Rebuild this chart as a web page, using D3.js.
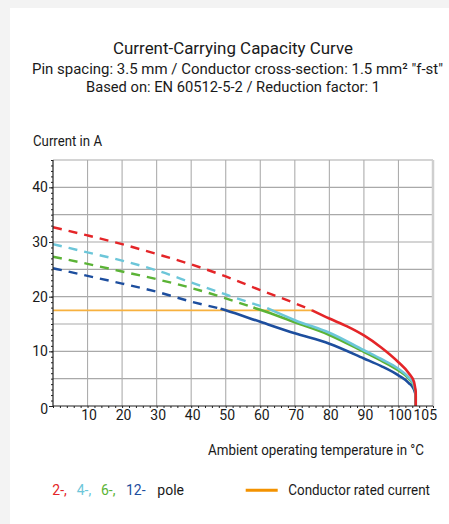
<!DOCTYPE html>
<html><head><meta charset="utf-8">
<script src="https://cdn.jsdelivr.net/npm/d3@7"></script>
<style>
html,body{margin:0;padding:0;background:#f3f3f3;}
svg{display:block;}
text{font-family:Roboto,"Noto Sans",sans-serif;fill:#1a1a1a;}
</style></head>
<body>
<svg id="chart" width="449" height="524"></svg>
<script>
// ---- data ----
const titleLines = ["Current-Carrying Capacity Curve",
  "Pin spacing: 3.5 mm / Conductor cross-section: 1.5 mm\u00b2 \"f-st\"",
  "Based on: EN 60512-5-2 / Reduction factor: 1"];
const yTicks = [0, 10, 20, 30, 40];
const xTicks = [10, 20, 30, 40, 50, 60, 70, 80, 90, 100, 105];
const poleLabels = ["2-,", "4-,", "6-,", "12-"];
const poleColors = ["#e42528", "#6cc6d9", "#5bb336", "#1d4e9e"];

const redT   = [0,10,20,30,40,50,60,70,75,80,85,90,95,100,103,104.5,105,105];
const redI   = [32.7,31.2,29.6,27.8,25.9,23.7,21.2,18.8,17.5,16.0,14.6,12.9,10.7,8.0,6.0,4.4,2.6,0];
const cyanT  = [0,10,20,30,40,50,60,62,70,80,90,95,100,103,104.5,105,105];
const cyanI  = [29.6,28.1,26.6,24.8,22.6,20.4,18.3,17.9,15.7,13.4,10.2,8.6,6.8,5.2,3.8,2.5,0];
const greenT = [0,10,20,30,40,50,58,60,70,80,90,95,100,103,104.5,105,105];
const greenI = [27.3,26.0,24.6,23.2,21.6,19.7,18.0,17.6,15.3,13.0,9.9,8.3,6.5,5.0,3.6,2.4,0];
const blueT  = [0,10,20,30,40,48.5,50,60,70,80,90,95,100,103,104.5,105,105];
const blueI  = [25.2,23.8,22.4,20.9,19.1,17.8,17.5,15.4,13.3,11.4,8.7,7.3,5.6,4.2,3.0,2.0,0];
const dashEndT = [75, 62, 58, 48.5];
const ratedT = [0, 75];
const ratedI = [17.5, 17.5];

// ---- layout ----
const svg = d3.select("#chart");
svg.append("rect").attr("x",10).attr("y",8).attr("width",439).attr("height",516).attr("fill","#ffffff");

const x = d3.scaleLinear().domain([0,110]).range([53,433]);
const y = d3.scaleLinear().domain([0,45]).range([406,160]);

function fitText(sel, w){ sel.attr("textLength", w).attr("lengthAdjust","spacingAndGlyphs"); return sel; }

svg.append("text").attr("x",233).attr("y",53.5).attr("text-anchor","middle")
  .style("font-size","16.5px").text(titleLines[0]).call(fitText,240);
svg.append("text").attr("x",237.5).attr("y",74.3).attr("text-anchor","middle")
  .style("font-size","15px").text(titleLines[1]).call(fitText,411);
svg.append("text").attr("x",233).attr("y",92).attr("text-anchor","middle")
  .style("font-size","15px").text(titleLines[2]).call(fitText,294);

svg.append("text").attr("x",33).attr("y",145.5).style("font-size","14.5px").text("Current in A").call(fitText,69);

// grid
const grid = svg.append("g");
grid.selectAll("line.h").data(d3.range(5,46,5)).join("line")
  .attr("x1",x(0)).attr("x2",x(110)).attr("y1",d=>y(d)).attr("y2",d=>y(d))
  .attr("stroke","#a9a9a9").attr("stroke-width",1.1);
grid.selectAll("line.v").data(d3.range(10,101,10)).join("line")
  .attr("x1",d=>x(d)).attr("x2",d=>x(d)).attr("y1",y(0)).attr("y2",y(45))
  .attr("stroke","#adadad").attr("stroke-width",1.1);
grid.append("line").attr("x1",x(110)).attr("x2",x(110)).attr("y1",y(0)).attr("y2",y(45))
  .attr("stroke","#cfcfcf").attr("stroke-width",2.5);

// rated current line
svg.append("line").attr("x1",x(ratedT[0])).attr("x2",x(ratedT[1]))
  .attr("y1",y(ratedI[0])).attr("y2",y(ratedI[1]))
  .attr("stroke","#f7b13f").attr("stroke-width",1.6);

// curves
const seriesT = [redT, cyanT, greenT, blueT];
const seriesI = [redI, cyanI, greenI, blueI];
const line = d3.line().x(d=>x(d[0])).y(d=>y(d[1])).curve(d3.curveMonotoneX);
const order = [3,2,1,0];
order.forEach(k=>{
  const pts = seriesT[k].map((t,i)=>[t, seriesI[k][i]]);
  const dashed = pts.filter(p=>p[0] <= dashEndT[k]);
  svg.append("path").attr("d",line(dashed)).attr("fill","none")
    .attr("stroke",poleColors[k]).attr("stroke-width",2.4).attr("stroke-dasharray","9,7");
});
order.forEach(k=>{
  const pts = seriesT[k].map((t,i)=>[t, seriesI[k][i]]);
  const solid = pts.filter(p=>p[0] >= dashEndT[k]);
  const last = solid[solid.length-1];
  const body = solid.slice(0, -1);
  svg.append("path").attr("d",line(body) + "V" + y(last[1])).attr("fill","none")
    .attr("stroke",poleColors[k]).attr("stroke-width",2.6).attr("stroke-linecap","butt");
});

// axes
const axisColor = "#222";
const yMinor = svg.append("g").attr("transform",`translate(${x(0)},0)`)
  .call(d3.axisLeft(y).tickValues(d3.range(0,46,1)).tickSize(2).tickFormat(""));
const yMajor = svg.append("g").attr("transform",`translate(${x(0)},0)`)
  .call(d3.axisLeft(y).tickValues(yTicks).tickSize(4).tickPadding(1).tickFormat(d3.format("d")));
const xMinor = svg.append("g").attr("transform",`translate(0,${y(0)})`)
  .call(d3.axisBottom(x).tickValues(d3.range(0,111,2)).tickSize(2).tickFormat(""));
const xMajor = svg.append("g").attr("transform",`translate(0,${y(0)})`)
  .call(d3.axisBottom(x).tickValues(xTicks).tickSize(0).tickPadding(4).tickFormat(d3.format("d")));
[yMinor,yMajor,xMinor,xMajor].forEach(g=>{
  g.selectAll("path.domain").attr("stroke",axisColor).attr("stroke-width",1.2);
  g.selectAll(".tick line").attr("stroke",axisColor).attr("stroke-width",1);
  g.selectAll(".tick text").style("font-family","Roboto,sans-serif").style("font-size","14px").attr("fill","#1a1a1a");
});
yMinor.select("path.domain").attr("d",`M0,${y(45)}V${y(0)}`);
yMajor.select("path.domain").remove();
xMajor.select("path.domain").remove();
xMinor.select("path.domain").attr("d",`M${x(0)},0H${x(110)}`);
xMajor.selectAll(".tick text").attr("dx",d=> d===105 ? 9 : (d===100 ? 1 : 1));
yMajor.selectAll(".tick text").attr("dy", d=> d===0 ? "0.55em" : "0.32em");

svg.append("text").attr("x",424).attr("y",455).attr("text-anchor","end")
  .style("font-size","14px").text("Ambient operating temperature in \u00b0C").call(fitText,216);

// legend
const legX = [52.3, 76.7, 101, 126];
const lg = svg.append("g");
lg.selectAll("text.pole").data(poleLabels).join("text")
  .attr("x",(d,i)=>legX[i]).attr("y",495).style("font-size","14px")
  .style("fill",(d,i)=>poleColors[i]).text(d=>d);
lg.append("text").attr("x",157.3).attr("y",495).style("font-size","14px").text("pole");
lg.append("line").attr("x1",245.7).attr("x2",277.7).attr("y1",490.3).attr("y2",490.3)
  .attr("stroke","#f39200").attr("stroke-width",3);
lg.append("text").attr("x",288.3).attr("y",495).style("font-size","14px").text("Conductor rated current").call(fitText,141.7);
</script>
</body></html>
